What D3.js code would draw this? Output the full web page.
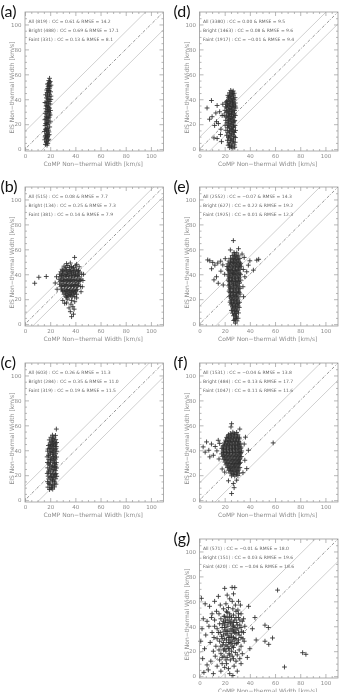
<!DOCTYPE html>
<html>
<head>
<meta charset="utf-8">
<script src="https://cdn.jsdelivr.net/npm/d3@7"></script>
<style>
  body { margin: 0; background: #fff; }
  svg { display: block; will-change: transform; }
</style>
</head>
<body>
<div id="container"></div>
<script>
const panelLabels = ["(a)", "(b)", "(c)", "(d)", "(e)", "(f)", "(g)"];
const nAll = [819, 515, 603, 3380, 2552, 1531, 571];
const nBright = [488, 134, 284, 1463, 627, 484, 151];
const nFaint = [331, 381, 319, 1917, 1925, 1047, 420];
const ccAll = ["0.61", "0.08", "0.26", "0.00", "−0.07", "−0.04", "−0.01"];
const ccBright = ["0.69", "0.25", "0.35", "0.08", "0.22", "0.13", "0.03"];
const ccFaint = ["0.13", "0.14", "0.19", "−0.01", "0.01", "0.11", "−0.04"];
const rmseAll = [14.2, 7.7, 11.3, 9.5, 14.3, 13.8, 18.0];
const rmseBright = [17.1, 7.3, 11.0, 9.6, 19.2, 17.7, 19.6];
const rmseFaint = [8.1, 7.9, 11.5, 9.4, 12.3, 11.6, 18.6];
const majorTicks = [0, 20, 40, 60, 80, 100];
const minorTicks = [5, 10, 15, 25, 30, 35, 45, 50, 55, 65, 70, 75, 85, 90, 95, 105];
const xTitle = "CoMP Non−thermal Width [km/s]";
const yTitle = "EIS Non−thermal Width [km/s]";

// CoMP width, EIS width  (km/s)
const ptsA = [[16.2,3.8],[18.1,4.6],[17.0,6.2],[15.7,7.5],[18.9,7.9],[17.6,9.4],[16.3,10.8],[19.2,11.6],[17.8,12.9],[15.6,14.1],[18.7,15.2],[16.9,16.4],[19.6,17.8],[16.0,18.9],[18.1,19.6],[17.2,21.5],[19.9,22.4],[15.8,23.6],[18.6,24.8],[16.9,26.1],[19.3,27.3],[16.1,28.7],[17.9,29.9],[20.2,31.0],[16.6,32.4],[18.8,33.5],[17.4,35.0],[19.9,36.2],[15.9,37.4],[18.3,38.6],[20.5,39.9],[17.0,41.1],[19.2,42.3],[16.5,43.6],[18.0,44.9],[20.3,46.0],[17.3,47.4],[19.4,48.5],[18.4,50.1],[20.6,51.3],[17.8,52.2],[19.6,53.6],[18.9,55.0],[19.5,56.8],[17.5,3.2],[16.8,8.6],[18.4,11.2],[17.2,14.8],[18.9,21.0],[17.5,25.4],[18.7,30.2],[17.8,34.1],[19.0,40.0],[18.6,46.8],[19.0,51.0],
  [16.9,5.5],[18.3,7.0],[16.0,9.8],[18.0,10.2],[17.0,12.0],[19.0,13.8],[16.2,15.9],[18.0,17.0],[17.0,20.2],[18.0,22.8],[16.6,24.2],[19.2,25.6],[17.3,27.5],[19.6,29.0],[16.9,30.4],[18.0,31.8],[19.5,32.9],[16.8,34.6],[18.7,36.3],[17.5,37.9],[19.7,38.3],[18.0,40.3],[17.8,42.8],[19.4,44.0],[17.6,45.5],[19.2,47.0],[18.0,48.6],[19.8,50.0],[18.8,52.5],[20.0,54.2],[16.4,20.5],[20.0,27.4],[16.8,37.0],[20.6,42.5]];

const ptsB = [[31,46.5],[34,47],[37,46.2],[40,46.8],[29.5,44],[32,44.2],[35,43.8],[38,44.3],[41,44],[28.5,42],[31,42.3],[33.5,41.8],[36,42.2],[38.5,41.9],[41.5,42.1],[43.5,41.8],[27.5,40],[30,40.2],[32.5,39.8],[35,40.3],[37.5,40],[40,39.7],[42.5,40.2],[45,40],[28,38],[30.5,37.8],[33,38.2],[35.5,38],[38,37.7],[40.5,38.1],[43,38],[27,36],[29.5,36.3],[32,35.8],[34.5,36.1],[37,36],[39.5,35.7],[42,36.2],[44.5,36],[28,34],[30.5,34.2],[33,33.8],[35.5,34.1],[38,34],[40.5,33.7],[43,34.2],[27.5,32],[30,32.3],[32.5,31.8],[35,32.1],[37.5,32],[40,31.8],[42.5,32.2],[28.5,30],[31,30.2],[33.5,29.8],[36,30.1],[38.5,30],[41,29.8],[44,30.2],[29,28],[31.5,28.2],[34,27.8],[36.5,28.1],[39,28],[41.5,27.9],[30,26],[32.5,26.2],[35,25.8],[37.5,26.1],[40,26],[31,24],[33.5,24.2],[36,23.8],[38.5,24.1],[41,24],[32.5,22],[35,22.2],[37.5,21.8],[39.5,22.1],[34,20],[37,19],[39.5,18],[33,17],[36.5,16],[31.5,16.7],[38,14],[35,13],[39,12],[36,10],[38.5,8],[37,6],[33,21.5],[41,21],[30,19],[39.4,53.5],[36,49],[41,48],[33,48.5],[43,46],[7.7,32.8],[11,37.6],[16.9,38.2],[24,33],[25,38],[25.5,28],[46,35],[45.5,30],[46.5,40],[44.5,26],
  [29,39],[31.8,39.1],[34.2,39.2],[36.8,39],[39.2,38.9],[41.8,39],[28.8,35],[31.2,35.1],[33.8,35],[36.2,34.9],[38.8,35.1],[41.2,35],[43.8,35],[29.2,31],[31.8,31.1],[34.2,30.9],[36.8,31],[39.2,31.1],[41.8,31],[30,27],[32.8,27.1],[35.5,27],[38,26.9],[40.5,27],[32,25],[34.8,25],[37,25.1],[39.5,25],[30,43],[33,43.1],[36.5,43],[39.5,43],[42.5,43],[30,41],[34,41],[37,41.1],[40,41],[33.5,23],[36.5,23],[35.5,45.5],[38.5,45.5],[32.5,45.5]];

const ptsC = [[19.5,8.5],[22.0,8.8],[18.2,10.4],[20.8,10.2],[23.4,10.6],[19.4,12.6],[22.1,12.4],[24.6,12.8],[17.9,14.8],[20.5,14.6],[23.2,15.0],[19.1,16.9],[21.7,16.7],[24.4,17.1],[18.4,19.2],[20.9,19.0],[23.6,19.4],[25.2,19.1],[17.7,21.4],[20.2,21.2],[22.8,21.6],[24.7,21.3],[19.0,23.5],[21.6,23.3],[24.1,23.7],[18.1,25.9],[20.7,25.7],[23.3,26.1],[25.1,25.8],[19.4,28.1],[22.0,27.9],[24.5,28.3],[17.8,30.2],[20.3,30.0],[22.9,30.4],[24.9,30.1],[18.9,32.6],[21.5,32.4],[24.0,32.8],[17.6,34.7],[20.1,34.5],[22.6,34.9],[25.0,34.6],[19.2,37.0],[21.8,36.8],[24.3,37.2],[18.0,39.3],[20.6,39.1],[23.1,39.5],[25.2,39.2],[19.5,41.4],[22.1,41.2],[24.6,41.6],[18.6,43.8],[21.2,43.6],[23.7,44.0],[20.0,46.0],[22.6,45.8],[25.1,46.2],[19.3,48.3],[21.9,48.1],[24.4,48.5],[20.6,50.4],[23.0,50.6],[21.8,52.1],[24.2,51.9],[24.9,57.0],
  [20.8,9.5],[21.5,11.6],[23.6,13.7],[18.8,13.5],[21.9,15.8],[20.0,18.0],[22.6,18.2],[21.5,20.3],[23.9,20.5],[18.6,22.5],[22.8,24.6],[19.8,24.8],[21.4,26.9],[24.0,27.0],[18.8,29.1],[23.5,29.3],[20.2,31.5],[23.0,31.6],[21.3,33.6],[23.8,33.8],[18.7,35.9],[23.1,36.1],[20.4,38.1],[22.5,38.3],[21.4,40.3],[23.9,40.5],[20.3,42.6],[22.6,42.8],[21.9,44.9],[24.2,45.1],[21.2,47.1],[23.3,47.3],[22.3,49.4],[19.9,44.6],[18.3,41.0],[24.8,43.0]];

const ptsD = [[24,1.2],[26.5,0.8],[28,1.5],[22.8,3.1],[25.2,2.7],[27.6,3.4],[23.5,5.2],[26,4.8],[28.3,5.5],[22.2,7.1],[24.6,6.8],[27,7.4],[23,9.2],[25.8,8.7],[28.5,9.3],[21.6,11.1],[24.2,10.8],[26.8,11.4],[22.5,13.2],[25,12.7],[27.7,13.3],[21,15.1],[23.6,14.8],[26.2,15.4],[28.6,15],[22.3,17.2],[24.8,16.7],[27.3,17.3],[20.4,19.1],[23.2,18.8],[25.7,19.4],[28.2,19],[21.8,21.2],[24.4,20.7],[26.9,21.3],[20.8,23.1],[23,22.8],[25.5,23.4],[28,23],[22,25.2],[24.6,24.7],[27.2,25.3],[19.6,27.1],[22.8,26.8],[25.3,27.4],[28.4,27],[21.2,29.2],[24,28.7],[26.6,29.3],[20.2,31.1],[22.6,30.8],[25.2,31.4],[27.8,31],[21.5,33.2],[24.2,32.7],[26.8,33.3],[28.8,33],[22.2,35.1],[24.9,34.8],[27.5,35.4],[20.8,37.2],[23.4,36.7],[26,37.3],[28.4,37],[22.4,39.1],[25,38.8],[27.6,39.4],[23,41.2],[25.6,40.7],[28.2,41.3],[22.6,43.1],[24.4,42.8],[27,43.4],[23.8,45.2],[26.2,44.7],[24.8,47.1],[26.8,46.6],[9.5,39],[6,33],[10,26],[13,29],[12,19],[15,20.5],[11.5,9],[14,8.5],[16.7,11.7],[8,24],[13.5,22],[17,16],[16,30],[18,27],[17.5,6],[14,35],[18.5,36],
  [25.3,2.0],[23.6,4.0],[26.8,6.0],[25.1,8.0],[23.4,10.0],[27.5,10.2],[25.6,12.0],[24.0,14.0],[27.2,14.1],[25.5,16.0],[23.6,18.0],[27.0,18.2],[25.9,20.0],[22.6,20.1],[24.2,22.0],[27.4,22.1],[23.4,24.0],[26.0,24.1],[21.2,26.0],[26.6,26.1],[24.0,26.2],[23.1,28.0],[25.5,28.1],[27.7,28.2],[21.9,30.0],[24.2,30.0],[26.5,30.2],[23.3,32.0],[25.6,32.1],[20.8,34.0],[23.5,34.1],[26.1,34.2],[28.4,34.5],[21.8,36.0],[24.2,36.1],[26.9,36.2],[23.6,38.0],[26.2,38.1],[21.5,38.3],[24.3,40.0],[26.9,40.1],[23.5,42.0],[25.9,42.1],[25.1,44.0],[27.5,44.8],[25.8,46.0]];

const ptsE = [[28.5,0.8],[29.8,2.6],[27.2,2.9],[28.4,4.5],[30.6,4.7],[27.0,6.7],[29.5,6.5],[26.2,8.8],[28.7,8.6],[31.0,9.0],[25.4,11.0],[27.9,10.8],[30.4,11.2],[26.6,13.2],[29.1,13.0],[31.6,13.4],[25.0,15.4],[27.5,15.2],[30.0,15.6],[24.3,17.6],[26.8,17.4],[29.3,17.8],[31.8,17.5],[25.6,19.8],[28.1,19.6],[30.6,20.0],[23.8,22.0],[26.3,21.8],[28.8,22.2],[31.3,21.9],[25.0,24.2],[27.5,24.0],[30.0,24.4],[32.3,24.1],[23.5,26.4],[26.0,26.2],[28.5,26.6],[31.0,26.3],[24.6,28.6],[27.1,28.4],[29.6,28.8],[32.1,28.5],[23.2,30.8],[25.7,30.6],[28.2,31.0],[30.7,30.7],[24.3,33.0],[26.8,32.8],[29.3,33.2],[31.8,32.9],[22.9,35.2],[25.4,35.0],[27.9,35.4],[30.4,35.1],[32.7,35.3],[24.0,37.4],[26.5,37.2],[29.0,37.6],[31.5,37.3],[22.6,39.6],[25.1,39.4],[27.6,39.8],[30.1,39.5],[32.6,39.7],[23.7,41.8],[26.2,41.6],[28.7,42.0],[31.2,41.7],[22.3,44.0],[24.8,43.8],[27.3,44.2],[29.8,43.9],[32.3,44.1],[21.8,46.2],[23.5,46.4],[26.0,46.0],[28.5,46.3],[31.0,46.1],[33.2,46.4],[22.6,48.4],[25.1,48.2],[27.6,48.6],[30.1,48.3],[32.6,48.5],[23.4,50.6],[25.9,50.4],[28.4,50.8],[30.9,50.5],[24.6,52.8],[27.1,52.6],[29.6,53.0],[32.0,52.7],[26.0,55.0],[28.5,54.8],[30.8,55.2],[27.4,57.5],[29.6,57.2],[26.9,67],[24.5,59.5],[31,60.5],[8.2,50.8],[6.5,51.5],[10.5,49.5],[12.2,47.3],[9.6,44.4],[14.5,49],[16.8,50.5],[18.5,47.5],[13.5,38],[14.9,32.8],[18.9,31.4],[17,42.5],[20,40],[20.5,52.5],[11.5,35.5],[45.5,51.3],[47,52],[38.8,47.3],[42.8,43.3],[34.8,43.8],[36,38],[40,50.8],[35.5,53.5],[34.5,30],[35,22],[33.8,56.2],[37.5,42],
  [28.0,3.6],[29.2,5.6],[28.1,7.6],[27.5,9.9],[29.6,10.0],[26.6,12.1],[29.0,12.1],[26.2,14.3],[28.6,14.3],[30.8,14.5],[25.5,16.5],[28.2,16.5],[30.7,16.6],[24.9,18.7],[27.2,18.7],[29.8,18.8],[25.0,20.9],[27.5,20.9],[29.8,21.0],[24.6,23.1],[27.1,23.1],[29.4,23.2],[24.3,25.3],[26.8,25.3],[29.2,25.4],[31.6,25.5],[24.0,27.5],[27.4,27.5],[30.7,27.6],[24.0,29.7],[26.5,29.7],[29.0,29.8],[31.5,29.8],[23.8,31.9],[27.1,31.9],[30.0,32.0],[23.6,34.1],[26.1,34.1],[28.6,34.2],[31.2,34.2],[23.4,36.3],[25.9,36.3],[28.4,36.4],[31.0,36.4],[23.3,38.5],[26.0,38.5],[28.3,38.6],[31.3,38.6],[24.4,40.7],[27.0,40.7],[29.5,40.8],[32.0,40.8],[23.1,42.9],[25.6,42.9],[28.0,43.0],[30.6,43.0],[23.3,45.1],[26.0,45.1],[28.7,45.2],[31.5,45.2],[24.0,47.3],[26.8,47.3],[29.3,47.4],[31.8,47.4],[24.6,49.5],[27.0,49.5],[29.5,49.6],[32.0,49.6],[25.8,51.7],[28.2,51.7],[30.6,51.8],[27.6,53.9],[29.9,54.0],[27.8,56.2]];

const ptsF = [[25.5,19.5],[28.0,19.3],[30.5,19.7],[24.3,21.7],[26.8,21.5],[29.3,21.9],[31.6,21.6],[23.2,23.9],[25.7,23.7],[28.2,24.1],[30.7,23.8],[22.1,26.1],[24.6,25.9],[27.1,26.3],[29.6,26.0],[32.0,26.2],[21.0,28.3],[23.5,28.1],[26.0,28.5],[28.5,28.2],[31.0,28.4],[20.2,30.5],[22.7,30.3],[25.2,30.7],[27.7,30.4],[30.2,30.6],[32.5,30.3],[19.3,32.7],[21.8,32.5],[24.3,32.9],[26.8,32.6],[29.3,32.8],[31.8,32.5],[18.4,34.9],[20.9,34.7],[23.4,35.1],[25.9,34.8],[28.4,35.0],[30.9,34.7],[33.1,35.0],[17.6,37.1],[20.1,36.9],[22.6,37.3],[25.1,37.0],[27.6,37.2],[30.1,36.9],[32.6,37.2],[18.7,39.3],[21.2,39.1],[23.7,39.5],[26.2,39.2],[28.7,39.4],[31.2,39.1],[33.5,39.4],[17.8,41.5],[20.3,41.3],[22.8,41.7],[25.3,41.4],[27.8,41.6],[30.3,41.3],[32.8,41.6],[18.9,43.7],[21.4,43.5],[23.9,43.9],[26.4,43.6],[28.9,43.8],[31.4,43.5],[19.8,45.9],[22.3,45.7],[24.8,46.1],[27.3,45.8],[29.8,46.0],[32.3,45.7],[20.7,48.1],[23.2,47.9],[25.7,48.3],[28.2,48.0],[30.7,48.2],[21.6,50.3],[24.1,50.1],[26.6,50.5],[29.1,50.2],[31.5,50.4],[23.0,52.5],[25.5,52.3],[28.0,52.7],[30.5,52.4],[26.5,54.5],[29.5,54.3],[2.9,42.7],[5.6,46.7],[7.4,40],[11,36],[8.2,34.7],[14.9,48],[9.5,45],[12.5,43],[4.5,38.5],[13.8,39.5],[16,45.5],[15.5,33],[25.5,61.3],[25,58.7],[32,57],[25.5,5.3],[26.9,13.3],[29.5,16],[27.5,10],[23,15.5],[37.5,25.3],[36,32],[38.8,40],[35.5,45],[36.5,50.5],[34.5,22],[58.5,45.9],[18,25],[20,22.5],
  [26.7,20.6],[29.2,20.6],[25.0,22.8],[27.5,22.8],[30.0,22.8],[23.8,25.0],[26.3,25.0],[28.8,25.0],[31.2,25.0],[22.8,27.2],[25.3,27.2],[27.8,27.2],[30.3,27.2],[21.8,29.4],[24.3,29.4],[26.8,29.4],[29.3,29.4],[31.8,29.4],[21.0,31.6],[23.5,31.6],[26.0,31.6],[28.5,31.6],[31.0,31.6],[20.0,33.8],[22.5,33.8],[25.0,33.8],[27.5,33.8],[30.0,33.8],[32.4,33.8],[19.2,36.0],[21.7,36.0],[24.2,36.0],[26.7,36.0],[29.2,36.0],[31.7,36.0],[18.8,38.2],[21.3,38.2],[23.8,38.2],[26.3,38.2],[28.8,38.2],[31.3,38.2],[33.0,38.2],[19.0,40.4],[21.5,40.4],[24.0,40.4],[26.5,40.4],[29.0,40.4],[31.5,40.4],[18.6,42.6],[21.1,42.6],[23.6,42.6],[26.1,42.6],[28.6,42.6],[31.1,42.6],[33.0,42.6],[20.2,44.8],[22.7,44.8],[25.2,44.8],[27.7,44.8],[30.2,44.8],[32.0,44.8],[21.0,47.0],[23.5,47.0],[26.0,47.0],[28.5,47.0],[31.0,47.0],[22.0,49.2],[24.5,49.2],[27.0,49.2],[29.5,49.2],[31.6,49.2],[22.6,51.4],[25.1,51.4],[27.6,51.4],[30.1,51.4],[24.5,53.5],[27.5,53.5]];

const ptsG = [[1.5,62.4],[4.5,58],[3,46],[6,44],[2,38],[5,33],[1,28],[4,22],[2.5,14],[6,9],[3.5,3],[8,56],[9.5,47],[7.5,40],[10,35],[8.5,27],[11,20],[9,12],[7,5],[12,60],[13.5,52],[12,45],[14,38],[11.5,31],[13,24],[12.5,16],[14,8],[11,2],[15,64],[16.5,57],[15.5,50],[17,46],[16,42],[18,39],[15,35],[17.5,32],[16,28],[18.5,25],[15.5,21],[17,18],[16,13],[18,10],[17,4],[19,54],[19.5,48],[20,70.4],[19,44],[20,41],[19.5,36],[20,30],[19,27],[20,22],[19.5,16],[20,7],[22,65],[21,58],[23,55],[21.5,52],[24,50],[22,47],[23.5,45],[21,43],[24.5,42],[22.5,40],[21,37],[23.5,36],[25,34],[22,33],[24,31],[21.5,29],[23,27],[25,26],[22,24],[24,22],[21,20],[23.5,18],[22,15],[24.5,13],[21.5,10],[23,6],[24,2],[25.9,71.2],[24,62],[28,71],[27,66],[26,60],[28.5,57],[26.5,54],[29,52],[27,49],[25.5,47],[28,45],[29.5,43],[26,41],[28,39],[27,36],[29,34],[25.5,32],[28,30],[26.5,28],[29.5,26],[27,23],[25.5,20],[28.5,19],[26,16],[29,12],[27.5,8],[30,4],[26.5,0.5],[31,60],[32.5,57],[30.5,53],[33,50],[31,47],[34,44],[32,41],[30.5,38],[33.5,36],[31.5,33],[34.5,30],[30.5,27],[33,24],[31.5,21],[34,18],[32,14],[35,46],[36,40],[35,35],[35.5,28],[33,10],[62,69],[44,47],[42,38],[52,40.9],[54.7,39],[52,28],[55,25.5],[58,30.6],[81.9,18.8],[84.5,17.5],[67.5,7.3],[40,22],[38,15],[39,56],[45,29],[16.5,35],[18,30],[19,33],[21,34],[23,31],[25,29],[27,31],[29,37],[31,35],[33,39],[18.5,42],[20.5,45],[22.5,43],[25,44],[27,43],[29,47],[31,50],[17,24],[19,21],[21,25],[23,22],[25,38],[27,40],[29,30],[31,29],[33,31],[20,48],[22,51],[24,48],[26,37],[28,35],[30,41],[32,45],[18,15],[21,13],[24,17],[27,14],[30,17],[14,30],[12,40],[10,50],[26,24],[28,26],[24,27],[22,36],[20,39]];

const panelPoints = [ptsA, ptsB, ptsC, ptsD, ptsE, ptsF, ptsG];

// column, row of each panel in the figure
const slots = [[0, 0], [0, 1], [0, 2], [1, 0], [1, 1], [1, 2], [1, 3]];
const colX = [25, 199.5];
const rowY = [12, 187, 363, 539];
const pw = 138.5, ph = 139;

const svg = d3.select("#container").append("svg")
    .attr("width", 343)
    .attr("height", 692)
    .style("font-family", "'DejaVu Sans', sans-serif");

panelPoints.forEach((pts, i) => {
    const [c, r] = slots[i];
    const x0 = colX[c], y0 = rowY[r];

    const x = d3.scaleLinear().domain([0, 110]).range([x0, x0 + pw]);
    const y = d3.scaleLinear().domain([-1.5, 110]).range([y0 + ph, y0]);

    const g = svg.append("g");

    g.append("clipPath").attr("id", "clip" + i)
        .append("rect")
        .attr("x", x0).attr("y", y0).attr("width", pw).attr("height", ph);

    const body = g.append("g").attr("clip-path", `url(#clip${i})`);
    const line = d3.line().x(d => x(d[0])).y(d => y(d[1]));

    // y = x +/- RMSE and y = x
    [-1, 1].forEach(s => {
        body.append("path")
            .datum([[-10, -10 + s * rmseAll[i]], [120, 120 + s * rmseAll[i]]])
            .attr("d", line)
            .attr("fill", "none")
            .attr("stroke", "#c4c4c4")
            .attr("stroke-width", 0.8)
    })
    body.append("path")
        .datum([[-10, -10], [120, 120]])
        .attr("d", line)
        .attr("fill", "none")
        .attr("stroke", "#7a7a7a")
        .attr("stroke-width", 0.8)
        .attr("stroke-dasharray", "3,1.5,0.8,1.5")

    g.append("g").selectAll("path")
        .data(pts)
        .join("path")
        .attr("d", "M-2.4,0H2.4M0,-2.4V2.4")
        .attr("transform", d => `translate(${x(d[0])},${y(d[1])})`)
        .attr("fill", "none")
        .attr("stroke", "#2e2e2e")
        .attr("stroke-width", 0.85)

    // frame + inward ticks on four sides
    const sides = [
        [() => d3.axisBottom(x), `translate(0,${y0 + ph})`, true],
        [() => d3.axisTop(x), `translate(0,${y0})`, false],
        [() => d3.axisLeft(y), `translate(${x0},0)`, true],
        [() => d3.axisRight(y), `translate(${x0 + pw},0)`, false]
    ];
    sides.forEach(([make, tr, labelled]) => {
        const major = g.append("g").attr("transform", tr)
            .call(make().tickValues(majorTicks).tickSizeInner(-4).tickSizeOuter(0)
                .tickPadding(labelled ? 3.5 : 0)
                .tickFormat(labelled ? d3.format("d") : ""));
        const minor = g.append("g").attr("transform", tr)
            .call(make().tickValues(minorTicks).tickSizeInner(-2).tickSizeOuter(0).tickFormat(""));
        [major, minor].forEach(a => {
            a.select(".domain").remove();
            a.selectAll("line").attr("stroke", "#9a9a9a").attr("stroke-width", 0.7);
            a.selectAll("text").attr("fill", "#8c8c8c").attr("font-size", 5.5)
                .attr("font-family", "'DejaVu Sans', sans-serif");
        })
    })

    g.append("rect")
        .attr("x", x0).attr("y", y0).attr("width", pw).attr("height", ph)
        .attr("fill", "none")
        .attr("stroke", "#9a9a9a")
        .attr("stroke-width", 0.8)

    const stats = [
        `All (${nAll[i]}) : CC = ${ccAll[i]} & RMSE = ${rmseAll[i].toFixed(1)}`,
        `Bright (${nBright[i]}) : CC = ${ccBright[i]} & RMSE = ${rmseBright[i].toFixed(1)}`,
        `Faint (${nFaint[i]}) : CC = ${ccFaint[i]} & RMSE = ${rmseFaint[i].toFixed(1)}`
    ];
    g.selectAll("text.stat")
        .data(stats)
        .join("text")
        .attr("class", "stat")
        .attr("x", x0 + 3.5)
        .attr("y", (d, k) => y0 + 10.5 + k * 9.2)
        .attr("font-size", 4.5)
        .attr("fill", "#666")
        .text(d => d)

    g.append("text")
        .attr("x", x0 + pw / 2 - 1)
        .attr("y", y0 + ph + 14.5)
        .attr("text-anchor", "middle")
        .attr("font-size", 6)
        .attr("fill", "#8c8c8c")
        .text(xTitle)

    g.append("text")
        .attr("transform", `translate(${x0 - 10.8},${y0 + ph / 2 + 6}) rotate(-90)`)
        .attr("text-anchor", "middle")
        .attr("font-size", 6)
        .attr("fill", "#8c8c8c")
        .text(yTitle)

    g.append("text")
        .attr("x", c === 0 ? 0.5 : 173.5)
        .attr("y", y0 + 4.5)
        .attr("font-family", "Lato, 'Open Sans', sans-serif")
        .attr("font-size", 16)
        .attr("fill", "#111")
        .text(panelLabels[i])
})
</script>
</body>
</html>
